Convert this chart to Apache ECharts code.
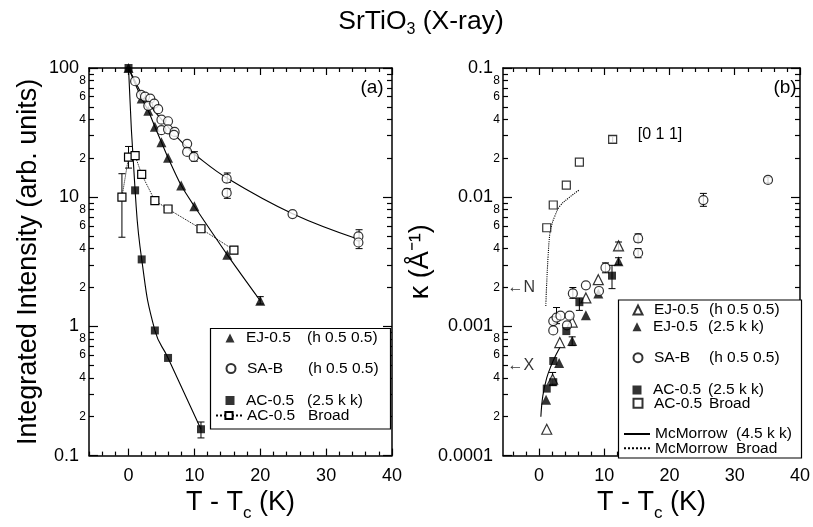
<!DOCTYPE html>
<html lang="en">
<head>
<meta charset="utf-8">
<title>SrTiO3 (X-ray)</title>
<style>html,body{margin:0;padding:0;background:#fff;}</style>
</head>
<body>
<div id="main" style="width:813px;height:527px;"></div>
<script src="https://cdn.jsdelivr.net/npm/echarts@6/dist/echarts.min.js"></script>
<script>
// ---------- panel (a): integrated intensity vs T - Tc ----------
var ejA_T  = [0, 2, 3, 4, 5, 6, 8, 10, 15, 20];
var ejA_V  = [100, 58, 46.7, 35.1, 26.6, 20.2, 12.3, 8.5, 3.58, 1.58];
var sabA_T = [1, 1.9, 2.5, 3.3, 3, 3.9, 4.5, 5, 6, 5, 6, 7, 6.9, 8.9, 8.9, 9.9, 14.9, 14.9, 24.9, 34.9, 34.9];
var sabA_V = [79, 62, 60, 58, 51, 53, 48, 39.8, 38.7, 33, 33.5, 32, 30.4, 25.9, 22.4, 20.5, 13.9, 10.8, 7.4, 4.97, 4.46];
var sabFitT = [0, 1, 2, 3, 4, 5, 6, 7, 9, 10, 15, 25, 35];
var sabFitV = [100, 79, 63, 54, 46, 40, 35, 30.5, 24, 21.5, 14, 7.4, 4.7];
var acA_T  = [0, 1, 2, 4, 6, 11];
var acA_V  = [100, 11.3, 3.3, 0.93, 0.57, 0.16];
var brA_T  = [-1, 0, 1, 2, 4, 6, 11, 16];
var brA_V  = [10, 20.4, 21, 15, 9.4, 8.1, 5.7, 3.9];
var errA_T  = [-1, 0, 10, 15, 15, 35, 20, 11];
var errA_Lo = [4.9, 16.8, 19, 13, 9.8, 4.0, 1.49, 0.137];
var errA_Hi = [15.2, 24.7, 22.5, 15.4, 11.6, 5.6, 1.70, 0.182];

// ---------- panel (b): kappa vs T - Tc ----------
var ejhB_T = [1.2, 2.1, 3.2, 5.1, 7.2, 9.1, 12.2];
var ejhB_V = [0.00016, 0.00039, 0.00075, 0.00108, 0.00166, 0.0023, 0.0042];
var ejkB_T = [1.1, 3.1, 5.1, 7.2, 9.1, 12.2];
var ejkB_V = [0.00027, 0.00052, 0.00077, 0.00122, 0.0018, 0.0032];
var sabB_T = [2.2, 2.2, 2.7, 3.3, 4.3, 4.7, 5.2, 7.2, 9.2, 10.2, 15.2, 15.2, 25.2, 35.1];
var sabB_V = [0.0011, 0.00093, 0.00117, 0.00121, 0.00102, 0.00121, 0.0018, 0.00208, 0.00188, 0.00285, 0.0048, 0.0037, 0.0095, 0.0136];
var acB_T  = [1.2, 2.2, 2.2, 4.2, 6.2, 11.2];
var acB_V  = [0.00033, 0.00037, 0.00054, 0.00092, 0.00154, 0.00247];
var brB_T  = [1.2, 2.2, 4.2, 6.2, 11.3];
var brB_V  = [0.0058, 0.0087, 0.0124, 0.0187, 0.028];
var mcT    = [0.3, 0.6, 1.2, 1.9, 2.6, 3.3];
var mcV    = [0.0002, 0.00029, 0.0004, 0.0005, 0.0006, 0.0007];
var mcBrT  = [1.06, 1.16, 1.41, 1.67, 1.92, 2.42, 3.18, 4.7, 6.2];
var mcBrV  = [0.00144, 0.00197, 0.0035, 0.0052, 0.006, 0.0071, 0.0085, 0.0100, 0.0114];
var errB_T  = [2.1, 2.7, 5.1, 5.2, 6.2, 10.2, 11.2, 12.2, 12.2, 15.2, 15.2, 25.2, 35.1, 11.3];
var errB_Lo = [0.00035, 0.00105, 0.00071, 0.00165, 0.00133, 0.0026, 0.00196, 0.0039, 0.003, 0.0045, 0.0034, 0.0085, 0.0129, 0.0265];
var errB_Hi = [0.00044, 0.0014, 0.00083, 0.002, 0.00166, 0.0031, 0.00297, 0.0045, 0.0034, 0.0052, 0.004, 0.0107, 0.0143, 0.0295];
var annotT = [-5.5, -5.5];
var annotV = [0.002, 0.0005];
var annotText = ['N', 'X'];

// ---------- tick labels ----------
var xMajor = [0, 10, 20, 30, 40];
var yDecA = [0.1, 1, 10, 100];
var yDecLabA = ['0.1', '1', '10', '100'];
var yDecB = [0.0001, 0.001, 0.01, 0.1];
var yDecLabB = ['0.0001', '0.001', '0.01', '0.1'];
var minorDigits = [2, 4, 6, 8];

var FONT = '"Liberation Sans", Arial, Helvetica, sans-serif';
var BLACK = '#000';
var CLEAR = 'rgba(0,0,0,0)';

function pairs(t, v) { return t.map(function (x, i) { return [x, v[i]]; }); }
function triples(t, lo, hi) { return t.map(function (x, i) { return [x, lo[i], hi[i]]; }); }

function minorX(min, max) {
    var out = [];
    for (var v = Math.ceil(min / 2) * 2; v <= max; v += 2) if (v % 10 !== 0) out.push(v);
    return out;
}
function minorY(dec) {
    var out = [];
    for (var i = 0; i < dec.length - 1; i++) for (var k = 2; k <= 9; k++) out.push(k * dec[i]);
    return out;
}
function minorYLab(dec) {
    var out = [];
    for (var i = 0; i < dec.length - 1; i++) minorDigits.forEach(function (k) { out.push(k * dec[i]); });
    return out;
}
function decFmt(dec, labs) {
    return function (v) {
        for (var i = 0; i < dec.length; i++) if (Math.abs(Math.log10(dec[i]) - Math.log10(v)) < 1e-6) return labs[i];
        return '';
    };
}
function leadDigit(v) {
    var e = Math.floor(Math.log10(v) + 1e-9);
    return String(Math.round(v / Math.pow(10, e)));
}

function mkAxis(o) {
    var a = {
        type: o.type, gridIndex: o.grid, position: o.pos, min: o.min, max: o.max,
        splitLine: { show: false }, minorTick: { show: false }, axisPointer: { show: false },
        axisLine: { show: !!o.line, onZero: false, lineStyle: { color: BLACK, width: 1.5 } },
        axisTick: { show: true, inside: true, length: o.len, customValues: o.ticks,
                    lineStyle: { color: BLACK, width: 1.2 } },
        axisLabel: { show: !!o.labels, color: BLACK, fontFamily: FONT, fontSize: o.fs || 18,
                     margin: o.margin || 8, hideOverlap: false }
    };
    if (o.labels) a.axisLabel.customValues = o.labels;
    if (o.fmt) a.axisLabel.formatter = o.fmt;
    if (o.type === 'log') a.logBase = 10;
    if (o.name) {
        a.name = o.name; a.nameLocation = 'middle'; a.nameGap = o.nameGap;
        a.nameTextStyle = o.nameStyle;
    }
    return a;
}

var xNameStyle = { color: BLACK, fontFamily: FONT, fontSize: 27,
    rich: { c: { fontSize: 17, fontFamily: FONT, color: BLACK, verticalAlign: 'bottom', padding: [21, 0, 0, 0] } } };

function xAxesFor(g, min, max) {
    return [
        mkAxis({ type: 'value', grid: g, pos: 'bottom', min: min, max: max, line: true, len: 7,
                 ticks: xMajor, labels: xMajor, fs: 18, margin: 11,
                 name: 'T - T{c|c} (K)', nameGap: 19, nameStyle: xNameStyle }),
        mkAxis({ type: 'value', grid: g, pos: 'bottom', min: min, max: max, len: 4, ticks: minorX(min, max) }),
        mkAxis({ type: 'value', grid: g, pos: 'top', min: min, max: max, line: true, len: 7, ticks: xMajor }),
        mkAxis({ type: 'value', grid: g, pos: 'top', min: min, max: max, len: 4, ticks: minorX(min, max) })
    ];
}
function yAxesFor(g, dec, labs, name, nameGap) {
    var min = dec[0], max = dec[dec.length - 1];
    return [
        mkAxis({ type: 'log', grid: g, pos: 'left', min: min, max: max, line: true, len: 9,
                 ticks: dec, labels: dec, fmt: decFmt(dec, labs), fs: 18, margin: 10,
                 name: name, nameGap: nameGap,
                 nameStyle: { color: BLACK, fontFamily: FONT, fontSize: 27 } }),
        mkAxis({ type: 'log', grid: g, pos: 'left', min: min, max: max, len: 5,
                 ticks: minorY(dec), labels: minorYLab(dec), fmt: leadDigit, fs: 12, margin: 3 }),
        mkAxis({ type: 'log', grid: g, pos: 'right', min: min, max: max, line: true, len: 9, ticks: dec }),
        mkAxis({ type: 'log', grid: g, pos: 'right', min: min, max: max, len: 5, ticks: minorY(dec) })
    ];
}

var filled = { color: BLACK };
var hollow = { color: '#fff', borderColor: BLACK, borderWidth: 1.2 };

function scatter(name, g, data, symbol, size, style) {
    return { type: 'scatter', name: name, xAxisIndex: g * 4, yAxisIndex: g * 4, data: data,
             symbol: symbol, symbolSize: size, itemStyle: style, z: 4 };
}
function curve(name, g, data, smooth, lineType) {
    return { type: 'line', name: name, xAxisIndex: g * 4, yAxisIndex: g * 4, data: data,
             symbol: 'none', smooth: smooth, itemStyle: { color: CLEAR },
             lineStyle: { color: BLACK, width: 1.1, type: lineType || 'solid' }, z: 3 };
}
function renderErr(params, api) {
    var x = api.value(0);
    var lo = api.coord([x, api.value(1)]);
    var hi = api.coord([x, api.value(2)]);
    var w = 3.5, st = { stroke: BLACK, lineWidth: 1 };
    return { type: 'group', children: [
        { type: 'line', shape: { x1: lo[0], y1: lo[1], x2: hi[0], y2: hi[1] }, style: st },
        { type: 'line', shape: { x1: lo[0] - w, y1: lo[1], x2: lo[0] + w, y2: lo[1] }, style: st },
        { type: 'line', shape: { x1: hi[0] - w, y1: hi[1], x2: hi[0] + w, y2: hi[1] }, style: st }
    ] };
}
function errors(g, data) {
    return { type: 'custom', xAxisIndex: g * 4, yAxisIndex: g * 4, data: data, renderItem: renderErr,
             encode: { x: 0, y: [1, 2] }, silent: true, z: 2 };
}

var series = [
    errors(0, triples(errA_T, errA_Lo, errA_Hi)),
    curve('fitEJ', 0, pairs(ejA_T, ejA_V), 0.25),
    curve('fitSAB', 0, pairs(sabFitT, sabFitV), 0.4),
    curve('fitAC', 0, pairs(acA_T, acA_V), 0.5),
    scatter('a|EJ-0.5|(h 0.5 0.5)', 0, pairs(ejA_T, ejA_V), 'triangle', 10, filled),
    scatter('a|SA-B|(h 0.5 0.5)', 0, pairs(sabA_T, sabA_V), 'circle', 9, hollow),
    scatter('a|AC-0.5|(2.5 k k)', 0, pairs(acA_T, acA_V), 'rect', 8, filled),
    { type: 'line', name: 'a|AC-0.5|Broad', xAxisIndex: 0, yAxisIndex: 0, data: pairs(brA_T, brA_V),
      symbol: 'rect', symbolSize: 8, showSymbol: true, itemStyle: hollow,
      lineStyle: { color: BLACK, width: 1, type: 'dotted' }, z: 4 },

    errors(1, triples(errB_T, errB_Lo, errB_Hi)),
    scatter('b|EJ-0.5|(h 0.5 0.5)', 1, pairs(ejhB_T, ejhB_V), 'triangle', 10, hollow),
    scatter('b|EJ-0.5|(2.5 k k)', 1, pairs(ejkB_T, ejkB_V), 'triangle', 10, filled),
    scatter('b|SA-B|(h 0.5 0.5)', 1, pairs(sabB_T, sabB_V), 'circle', 9, hollow),
    scatter('b|AC-0.5|(2.5 k k)', 1, pairs(acB_T, acB_V), 'rect', 8, filled),
    scatter('b|AC-0.5|Broad', 1, pairs(brB_T, brB_V), 'rect', 8, hollow),
    curve('b|McMorrow|(4.5 k k)', 1, pairs(mcT, mcV), 0.4),
    curve('b|McMorrow|Broad', 1, pairs(mcBrT, mcBrV), 0.4, 'dotted'),
    { type: 'scatter', name: 'annot', xAxisIndex: 4, yAxisIndex: 4, data: pairs(annotT, annotV),
      symbolSize: 1, itemStyle: { color: CLEAR }, silent: true,
      label: { show: true, position: 'right', distance: 4, color: BLACK, fontFamily: FONT, fontSize: 16,
               formatter: function (p) { return '\u2190' + annotText[p.dataIndex]; } } }
];

// legend rows: [series name, icon centre x, row centre y, icon is a line?]
// one legend per row so the uneven spacing of the original can be kept
var legendRows = [
    ['a|EJ-0.5|(h 0.5 0.5)', 230, 338, false], ['a|SA-B|(h 0.5 0.5)', 230, 368.5, false],
    ['a|AC-0.5|(2.5 k k)', 230, 400.5, false], ['a|AC-0.5|Broad', 228, 415.5, true],
    ['b|EJ-0.5|(h 0.5 0.5)', 637, 310, false], ['b|EJ-0.5|(2.5 k k)', 637, 326.7, false],
    ['b|SA-B|(h 0.5 0.5)', 637, 357.7, false], ['b|AC-0.5|(2.5 k k)', 637, 390, false],
    ['b|AC-0.5|Broad', 637, 403.3, false], ['b|McMorrow|(4.5 k k)', 636, 434, true],
    ['b|McMorrow|Broad', 636, 448.3, true]
];
var tok = { fontSize: 15.5, fontFamily: FONT, color: BLACK };
function tk(extra) { return Object.assign({}, tok, extra); }
var legends = legendRows.map(function (r) {
    var lineIcon = r[3];
    var iw = lineIcon ? 26 : 9;
    return {
        data: [r[0]], left: r[1] - iw / 2, top: r[2] - 8, orient: 'vertical', padding: 0,
        itemWidth: iw, itemHeight: 9, selectedMode: false,
        formatter: function (name) {
            var p = name.split('|');
            var key = p[1] === 'McMorrow' ? 'm' : (p[0] === 'a' ? 'na' : 'nb');
            return (lineIcon ? '' : '{sp| }') + '{' + key + '|' + p[1] + '}{q|' + p[2] + '}';
        },
        textStyle: { fontSize: 15.5, fontFamily: FONT, color: BLACK,
            rich: { sp: tk({ width: 6.5 }), na: tk({ width: 61 }), nb: tk({ width: 55 }),
                    m: tk({ width: 81 }), q: tk({}) } }
    };
});

var option = {
    animation: false,
    backgroundColor: '#fff',
    textStyle: { fontFamily: FONT },
    grid: [
        { left: 89, top: 68, width: 303, height: 402 },
        { left: 503, top: 68, width: 300, height: 402 }
    ],
    xAxis: xAxesFor(0, -6, 40).concat(xAxesFor(1, -5.5, 40)),
    yAxis: yAxesFor(0, yDecA, yDecLabA, 'Integrated Intensity (arb. units)', 47)
        .concat(yAxesFor(1, yDecB, yDecLabB, '\u03BA (\u00C5\u207B\u00B9)', 49)),
    legend: legends,
    graphic: [
        { type: 'text', x: 421, y: 22, style: { text: 'SrTiO{s|3} (X-ray)', fontSize: 26.5, fontFamily: FONT,
            fill: BLACK, align: 'center', verticalAlign: 'middle',
            rich: { s: { fontSize: 16, fontFamily: FONT, fill: BLACK, verticalAlign: 'bottom', padding: [15, 0, 0, 0] } } } },
        { type: 'rect', z: 3, shape: { x: 210.5, y: 328.5, width: 180, height: 100.5 },
          style: { fill: '#fff', stroke: BLACK, lineWidth: 1.2 } },
        { type: 'rect', z: 3, shape: { x: 618.5, y: 300, width: 183, height: 158 },
          style: { fill: '#fff', stroke: BLACK, lineWidth: 1.2 } },
        { type: 'text', x: 372, y: 88, style: { text: '(a)', fontSize: 19, fontFamily: FONT, fill: BLACK, align: 'center', verticalAlign: 'middle' } },
        { type: 'text', x: 785, y: 88, style: { text: '(b)', fontSize: 19, fontFamily: FONT, fill: BLACK, align: 'center', verticalAlign: 'middle' } },
        { type: 'text', x: 660, y: 135, style: { text: '[0 1 1]', fontSize: 16, fontFamily: FONT, fill: BLACK, align: 'center', verticalAlign: 'middle' } }
    ],
    series: series
};

var chart = echarts.init(document.getElementById('main'));
chart.setOption(option);
</script>
</body>
</html>
